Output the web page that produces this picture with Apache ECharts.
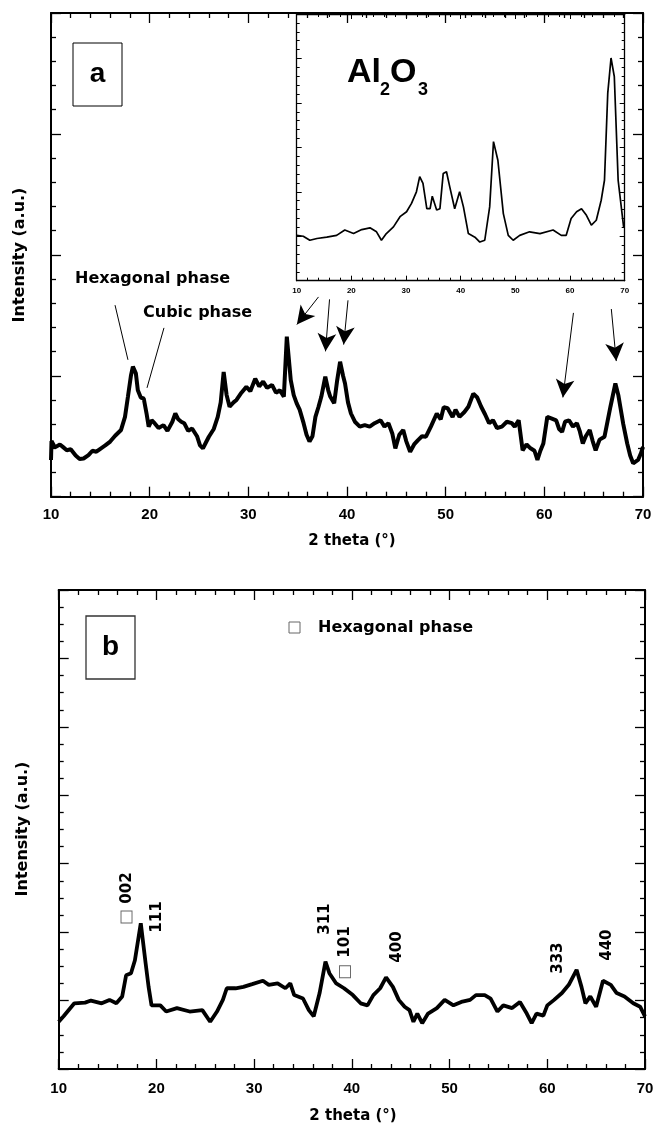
<!DOCTYPE html>
<html><head><meta charset="utf-8">
<script src="https://cdn.jsdelivr.net/npm/echarts@6/dist/echarts.min.js"></script>
<style>html,body{margin:0;padding:0;background:#fff}#c{width:657px;height:1124px}</style>
</head><body><div id="c"></div>
<script>
// ---- Panel a (main) ----
const aTheta = [10.0,10.05,10.4,10.9,11.2,11.6,12.0,12.5,12.9,13.3,13.8,14.2,14.6,15.0,15.5,16.0,16.5,17.1,17.5,17.8,18.1,18.3,18.6,18.8,19.1,19.4,19.7,19.9,20.2,20.5,20.9,21.4,21.8,22.0,22.3,22.6,22.9,23.2,23.5,23.9,24.3,24.8,25.1,25.4,25.7,26.0,26.5,26.9,27.2,27.5,27.8,28.1,28.5,28.8,29.3,29.8,30.2,30.7,31.1,31.5,31.9,32.4,32.8,33.2,33.6,33.9,34.3,34.6,34.9,35.2,35.6,35.9,36.2,36.5,36.8,37.1,37.4,37.8,38.1,38.3,38.7,39.0,39.3,39.6,39.8,40.1,40.4,40.8,41.3,41.8,42.3,42.8,43.4,43.8,44.2,44.6,44.9,45.3,45.7,46.0,46.4,46.8,47.2,47.6,48.0,48.5,49.1,49.5,49.8,50.2,50.7,51.0,51.4,51.9,52.3,52.8,53.2,53.6,54.0,54.4,54.8,55.2,55.7,56.2,56.7,57.0,57.4,57.8,58.2,58.6,59.0,59.3,59.6,59.9,60.3,60.7,61.2,61.5,61.8,62.1,62.5,62.9,63.3,63.6,63.9,64.2,64.6,64.9,65.2,65.6,66.1,66.4,66.7,67.2,67.5,67.7,68.0,68.4,68.7,69.0,69.5,69.8,70.0];
const aIntensity = [7.6,11.5,10.2,10.8,10.3,9.6,9.8,8.5,7.8,7.9,8.6,9.5,9.3,9.9,10.6,11.4,12.6,13.8,16.5,20.7,25,26.9,25.5,22,20.5,20.3,17,14.5,15.8,15.2,14.2,14.8,13.6,13.4,15.5,17.2,16,15.5,15.2,13.6,14.1,12.5,10.6,10,11.2,12.4,14,16.5,19.5,25.8,21,18.6,19.5,20,21.5,22.7,21.8,24.4,22.8,23.8,22.5,23.1,21.5,22,20.7,33.1,24.1,21,19.3,18,15.2,12.8,11.4,12.5,16.5,18.5,20.7,24.8,22,20.7,19.3,24,27.9,25,23.4,19.5,17.2,15.5,14.5,14.8,14.5,15.2,15.8,14.5,15.2,13,10,12.8,13.8,11.5,9.3,10.8,11.7,12.5,12.4,14.5,17.2,16,18.5,18.3,16.5,18,16.5,17.5,18.6,21.3,20.5,18.6,17,15.2,15.8,14.2,14.5,15.5,15.2,14.5,15.8,9.6,10.8,10,9.5,7.6,9.5,11,16.5,16.2,15.8,14,13.4,15.5,15.8,14.5,15.2,13.5,11,12.5,13.8,11.5,9.6,11.8,12.4,15.5,18.6,23.4,21,18.6,15,11,8.5,6.9,7.6,9,10.3];

// ---- Inset (Al2O3) ----
const insetTheta = [10,11.2,12.4,13.7,15.5,17.3,18.8,20.4,21.9,23.4,24.6,25.5,26.4,27.7,28.9,30.1,31.0,31.9,32.5,33.1,33.8,34.4,34.8,35.6,36.2,36.8,37.4,38.0,38.9,39.8,40.5,41.4,42.6,43.5,44.4,45.3,46.0,46.8,47.8,48.7,49.6,50.8,52.6,54.5,56.9,58.4,59.3,60.2,61.2,62.1,63.0,63.9,64.8,65.7,66.3,66.9,67.5,68.1,68.8,69.8,70];
const insetIntensity = [10.2,10,9.1,9.5,9.8,10.2,11.4,10.6,11.5,11.9,11,9.1,10.6,12.1,14.4,15.5,17.4,20,23.4,21.9,16.2,16.2,19,15.9,16.2,24.1,24.5,21.1,16.2,20,16.6,10.6,9.8,8.7,9.1,16.6,31.3,27.1,15.1,10.2,9.1,10.2,11,10.6,11.4,10.2,10.2,14,15.5,16.2,14.7,12.5,13.6,18.1,22.6,42.2,50.1,45.9,22.6,12.1,12.1];

// ---- Panel b ----
const bTheta = [10,10.5,11.6,12.7,13.3,14.4,15.2,15.9,16.5,16.9,17.4,17.8,18.4,18.9,19.2,19.5,20.4,21.0,22.1,23.4,24.7,25.5,26.2,26.8,27.2,28.1,28.9,29.8,30.9,31.5,32.4,33.2,33.7,34.1,35.0,35.6,36.1,36.7,37.3,37.7,38.4,39.2,40.1,40.9,41.6,42.2,42.9,43.5,44.2,44.8,45.4,45.9,46.3,46.7,47.2,47.8,48.7,49.5,50.4,51.2,52.1,52.7,53.6,54.2,54.9,55.5,56.4,57.2,57.9,58.4,58.9,59.6,60.0,60.7,61.5,62.2,63.0,63.5,63.9,64.4,65.0,65.7,66.5,67.1,67.9,68.8,69.5,70];
const bIntensity = [6.9,7.7,9.6,9.7,10,9.6,10.1,9.6,10.6,13.7,14,15.9,21.3,15.4,12,9.3,9.3,8.4,8.9,8.4,8.6,6.9,8.4,10.1,11.8,11.8,12,12.4,12.9,12.3,12.5,11.8,12.5,10.8,10.3,8.6,7.7,11.1,15.7,14,12.5,11.8,10.8,9.6,9.3,10.8,11.8,13.4,12,10.1,9.1,8.6,6.9,8.1,6.7,8.1,8.9,10.1,9.3,9.8,10.1,10.8,10.8,10.3,8.4,9.3,8.9,9.8,8.1,6.7,8.1,7.8,9.3,10.1,11.1,12.3,14.5,12,9.6,10.6,9.1,12.9,12.3,11.1,10.6,9.6,9.1,7.7];

// peak annotations in panel b
const peakNames = ['002','111','311','101','400','333','440'];
const peakTheta = [16.96,20.06,37.25,39.30,44.62,61.1,66.17];
const peakIntensity = [26.45,22.2,21.9,18.56,17.83,16.2,18.1];
const hexTheta = [16.94,39.30];
const hexIntensity = [22.2,14.2];

// arrows / guide lines in panel a (data coords)
const arrowStart = [[37.11,41.3],[38.23,40.8],[40.1,40.6],[62.95,38.0],[66.79,38.8]];
const arrowEnd   = [[34.92,35.6],[37.82,30.05],[39.66,31.44],[61.88,20.53],[67.29,28.04]];
const guideStart = [[16.49,39.6],[21.45,34.9]];
const guideEnd   = [[17.8,28.3],[19.73,22.5]];

const zip = (a,b)=>a.map((v,i)=>[v,b[i]]);
const NUM = '"Liberation Sans", Arial, sans-serif';
const TXT = '"DejaVu Sans", sans-serif';

function xAx(grid, pos, showLabel, c){
  return {type:'value', gridIndex:grid, position:pos, min:10, max:70, interval:10,
    axisLine:{show:true,onZero:false,lineStyle:{color:'#000',width:c.lw}},
    axisTick:{show:true,inside:true,length:c.tl,lineStyle:{color:'#000',width:c.tw}},
    minorTick:{show:true,splitNumber:5,length:c.ml,lineStyle:{color:'#000',width:c.tw}},
    splitLine:{show:false}, minorSplitLine:{show:false},
    axisLabel:{show:showLabel,margin:c.margin,showMinLabel:true,showMaxLabel:true,
      fontFamily:NUM,fontWeight:'bold',fontSize:c.fs,color:'#000'}};
}
function yAx(grid, pos, max, interval, split, c){
  return {type:'value', gridIndex:grid, position:pos, min:0, max:max, interval:interval,
    axisLine:{show:true,onZero:false,lineStyle:{color:'#000',width:c.lw}},
    axisTick:{show:true,inside:true,length:c.tl,lineStyle:{color:'#000',width:c.tw}},
    minorTick:{show:true,splitNumber:split,length:c.ml,lineStyle:{color:'#000',width:c.tw}},
    splitLine:{show:false}, minorSplitLine:{show:false}, axisLabel:{show:false}};
}
const cMain = {lw:2, tl:10, ml:5, tw:1.3, margin:11, fs:15};
const cB = {lw:2, tl:10, ml:5, tw:1.3, margin:12, fs:15};
const cIn = {lw:1.3, tl:5, ml:3, tw:1, margin:6, fs:8};

const arrowData = arrowStart.map((s,i)=>[{coord:s,symbol:'none'},{coord:arrowEnd[i],symbol:'arrow'}]);
const guideData = guideStart.map((s,i)=>[{coord:s,symbol:'none'},{coord:guideEnd[i],symbol:'none'}]);

function txt(text,x,y,size,opts){
  opts = opts||{};
  return {type:'text', x:x, y:y, rotation:opts.rot||0, silent:true,
    style:{text:text, font:'bold '+size+'px '+(opts.family||TXT), fill:opts.fill||'#000',
      textAlign:opts.align||'center', textVerticalAlign:'middle', align:opts.align||'center', verticalAlign:'middle'}};
}

const option = {
  animation:false,
  backgroundColor:'#fff',
  grid:[
    {left:51, top:13, width:592, height:483.7, outerBoundsMode:'none'},
    {left:296.7, top:14, width:328, height:266.7, outerBoundsMode:'none'},
    {left:58.7, top:590, width:586.3, height:479, outerBoundsMode:'none'}
  ],
  xAxis:[
    xAx(0,'bottom',true,cMain), xAx(0,'top',false,cMain),
    xAx(1,'bottom',true,cIn), xAx(1,'top',false,cIn),
    xAx(2,'bottom',true,cB), xAx(2,'top',false,cB)
  ],
  yAxis:[
    yAx(0,'left',100,25,5,cMain), yAx(0,'right',100,25,5,cMain),
    yAx(1,'left',60,10,5,cIn), yAx(1,'right',60,10,5,cIn),
    yAx(2,'left',70,10,4,cB), yAx(2,'right',70,10,4,cB)
  ],
  series:[
    {type:'line', xAxisIndex:0, yAxisIndex:0, data:zip(aTheta,aIntensity), showSymbol:false, silent:true,
      lineStyle:{color:'#000',width:4}, z:3,
      markLine:{silent:true, animation:false, symbolSize:[14,18], label:{show:false},
        lineStyle:{color:'#000',width:1,type:'solid',opacity:1}, itemStyle:{color:'#000'}, emphasis:{disabled:true},
        data: arrowData.concat(guideData)}},
    {type:'line', xAxisIndex:2, yAxisIndex:2, data:zip(insetTheta,insetIntensity), showSymbol:false, silent:true,
      lineStyle:{color:'#000',width:1.7}},
    {type:'line', xAxisIndex:4, yAxisIndex:4, data:zip(bTheta,bIntensity), showSymbol:false, silent:true,
      lineStyle:{color:'#000',width:3.8}},
    {type:'scatter', xAxisIndex:4, yAxisIndex:4, silent:true, symbolSize:0,
      itemStyle:{opacity:1, color:'#000'},
      data: peakNames.map((n,i)=>({name:n, value:[peakTheta[i],peakIntensity[i]]})),
      label:{show:true, position:'inside', formatter:'{b}', rotate:90, fontFamily:TXT, fontWeight:'bold', fontSize:15, color:'#000', opacity:1}},
    {type:'scatter', xAxisIndex:4, yAxisIndex:4, silent:true, symbol:'rect', symbolSize:[11,12],
      data: zip(hexTheta,hexIntensity),
      itemStyle:{color:'rgba(0,0,0,0)', borderColor:'#666', borderWidth:1, opacity:1}}
  ],
  graphic:[
    {type:'rect', shape:{x:73,y:43,width:49,height:63}, style:{fill:'none',stroke:'#000',lineWidth:1}, silent:true},
    txt('a',97.5,74,28,{family:NUM}),
    {type:'rect', shape:{x:86,y:616,width:49,height:63}, style:{fill:'none',stroke:'#333',lineWidth:1.3}, silent:true},
    txt('b',110.5,647,28,{family:NUM}),
    txt('Al',347,73,34,{family:'"Liberation Sans Narrow", '+NUM, align:'left'}),
    txt('2',380,90,18,{family:NUM, align:'left'}),
    txt('O',390,73,34,{family:'"Liberation Sans Narrow", '+NUM, align:'left'}),
    txt('3',418,90,18,{family:NUM, align:'left'}),
    txt('Hexagonal phase',75,279,16,{align:'left'}),
    txt('Cubic phase',143,313,16,{align:'left'}),
    txt('2 theta (°)',352,541,15),
    txt('2 theta (°)',353,1116,15),
    txt('Intensity (a.u.)',20,255,16,{rot:Math.PI/2}),
    txt('Intensity (a.u.)',22.5,829,16,{rot:Math.PI/2}),
    {type:'rect', shape:{x:289,y:622,width:11,height:11}, style:{fill:'none',stroke:'#666',lineWidth:1}, silent:true},
    txt('Hexagonal phase',318,628,16,{align:'left'})
  ]
};
const chart = echarts.init(document.getElementById('c'), null, {renderer:'canvas'});
chart.setOption(option);
</script></body></html>
